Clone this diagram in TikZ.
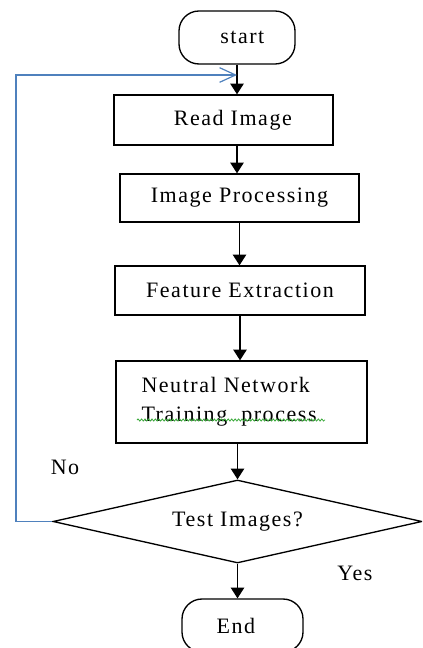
\documentclass[tikz,border=0pt]{standalone}
\usepackage{fontspec}
\setmainfont{Liberation Serif}[LetterSpace=7]
\usetikzlibrary{arrows.meta,shapes.geometric,decorations.pathmorphing}
\definecolor{loopblue}{RGB}{79,129,189}
\definecolor{spellgreen}{RGB}{60,170,60}
\tikzset{
  lbl/.style={font=\fontsize{16.5}{22}\selectfont, inner sep=0pt},
  box/.style={draw, line width=1pt, rectangle, lbl},
  term/.style={draw, line width=1pt, rectangle, rounded corners=15pt, lbl},
  decision/.style={draw, line width=1pt, diamond, lbl, aspect=4.45},
  arr/.style={line width=1pt, -{Triangle[width=10pt,length=8pt]}},
  looparr/.style={line width=0.9pt, draw=loopblue, -{Straight Barb[length=12pt,width=11pt,line width=0.9pt]}},
  spell/.style={draw=spellgreen, line width=0.6pt, decorate, decoration={snake, amplitude=0.8pt, segment length=2.6pt}}
}
\begin{document}
\begin{tikzpicture}[x=0.75pt,y=-0.75pt]
\useasboundingbox (0,0) rectangle (422,648);
\clip (0,0) rectangle (422,648);
\node[term, minimum width=87pt, minimum height=39.75pt] (start) at (237,37.5) {\hspace*{8pt}start};
\node[box, minimum width=164.25pt, minimum height=37.5pt] (read) at (223.5,120) {\hspace*{14pt}Read Image};
\node[box, minimum width=179.25pt, minimum height=36pt] (proc) at (239.5,198) {Image Processing};
\node[box, minimum width=187.5pt, minimum height=36.75pt] (feat) at (240,290.5) {Feature Extraction};
\node[box, minimum width=188.25pt, minimum height=61.5pt, align=left] (nn) at (241.5,402) {\raisebox{6pt}{\parbox{150pt}{Neutral Network\\Training\ \ process}}};
\node[decision, minimum width=276.75pt, minimum height=62.25pt] (test) at (237.5,521.5) {Test Images?};
\node[term, minimum width=90.75pt, minimum height=39.75pt] (end) at (242.5,625.5) {End\hspace*{10pt}};
\node[lbl] (no) at (65,467) {No};
\node[lbl] (yes) at (355,573) {Yes};
\coordinate (loopcorner) at (16,75);
\coordinate (loopend) at (237,75);
\draw[arr] (start.south) -- (start.south |- read.north);
\draw[arr] (start.south |- read.south) -- (start.south |- proc.north);
\draw[arr] (proc.south) -- (proc.south |- feat.north);
\draw[arr] (feat.south) -- (feat.south |- nn.north);
\draw[arr] (nn.south -| test.north) -- (test.north);
\draw[arr] (test.south) -- (test.south |- end.north);
\draw[looparr] (test.west) -| (loopcorner) -- (loopend);
\draw[spell] (137,420) -- (325,420);
\end{tikzpicture}
\end{document}
